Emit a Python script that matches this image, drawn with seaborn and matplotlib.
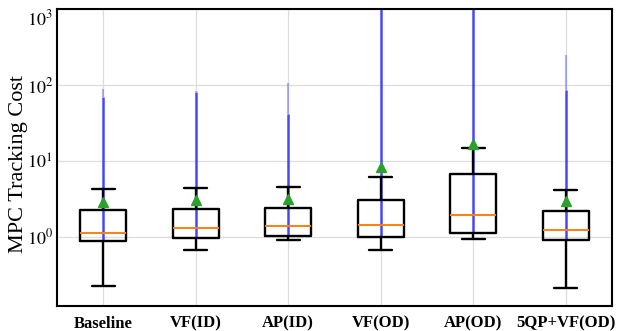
import numpy as np
import pandas as pd
import matplotlib
matplotlib.use("Agg")
import matplotlib.pyplot as plt
import seaborn as sns

# ---- values ----
categories = ["Baseline", "VF(ID)", "AP(ID)", "VF(OD)", "AP(OD)", "5QP+VF(OD)"]
whisker_low = [0.224, 0.66, 0.905, 0.668, 0.92, 0.213]
q1 = [0.87, 0.97, 1.03, 0.98, 1.12, 0.896]
median = [1.13, 1.30, 1.38, 1.41, 1.93, 1.22]
q3 = [2.25, 2.29, 2.41, 3.04, 6.68, 2.18]
whisker_high = [4.28, 4.33, 4.51, 6.15, 14.8, 4.08]
means = [2.83, 3.04, 3.10, 8.34, 16.6, 2.95]
# extent of the dense cloud of outlier points and of the sparse tail
outlier_dense_top = [69.5, 80.0, 42.0, 1000.0, 1000.0, 85.0]
outlier_max = [90.0, 84.0, 108.0, 1000.0, 1000.0, 250.0]
yticks = [1, 10, 100, 1000]
ytick_labels = [r"$10^{0}$", r"$10^{1}$", r"$10^{2}$", r"$10^{3}$"]

# long table for seaborn: five-number summary per method
rows = []
for c, lo, a, m, b, hi in zip(categories, whisker_low, q1, median, q3, whisker_high):
    for v in (lo, a, a, m, b, b, hi):
        rows.append({"method": c, "cost": v})
df = pd.DataFrame(rows)

sns.set_theme(style="whitegrid")
plt.rcParams["font.family"] = ["Liberation Serif", "DejaVu Serif"]
plt.rcParams["mathtext.fontset"] = "stix"

fig = plt.figure(figsize=(6.25, 3.31), dpi=100)
ax = fig.add_axes([0.0912, 0.0755, 0.8880, 0.8965])
ax.set_yscale("log")

blue = "#2b2bff"
xs = np.arange(len(categories))
ax.vlines(xs, q1, outlier_dense_top, color=blue, lw=1.8, alpha=0.85, zorder=2)
ax.vlines(xs, outlier_dense_top, outlier_max, color=blue, lw=1.5, alpha=0.35, zorder=2)

sns.boxplot(data=df, x="method", y="cost", order=categories, ax=ax,
            width=0.5, whis=(0, 100), fill=False, color="black",
            linewidth=1.7, showfliers=False,
            boxprops={"color": "black", "zorder": 3},
            whiskerprops={"color": "black", "zorder": 3},
            capprops={"color": "black", "zorder": 3},
            medianprops={"color": "#ff7f0e", "linewidth": 1.4, "zorder": 4})

ax.plot(xs, means, linestyle="none", marker="^", color="#2ca02c",
        markersize=7.5, zorder=5)

ax.set_xlim(-0.5, len(categories) - 0.5)
ax.set_ylim(0.122, 1000)
ax.set_yticks(yticks)
ax.set_yticklabels(ytick_labels, fontsize=13)
ax.yaxis.set_minor_locator(matplotlib.ticker.NullLocator())
for t in ax.get_xticklabels():
    t.set_fontweight("bold")
    t.set_fontsize(12)
ax.get_yticklabels()[-1].set_va("top")
ax.tick_params(axis="y", length=0, pad=3, colors="black")
ax.tick_params(axis="x", length=0, pad=7, colors="black")
ax.set_xlabel("")
ax.set_ylabel("MPC Tracking Cost", fontsize=16, color="black")
ax.yaxis.set_label_coords(-0.052, 0.48)

ax.grid(True, color="#dddddd", linewidth=0.9)
ax.set_axisbelow(True)
for s in ax.spines.values():
    s.set_color("black")
    s.set_linewidth(1.5)
ax.set_facecolor("white")

fig.savefig("out.png", dpi=100)
